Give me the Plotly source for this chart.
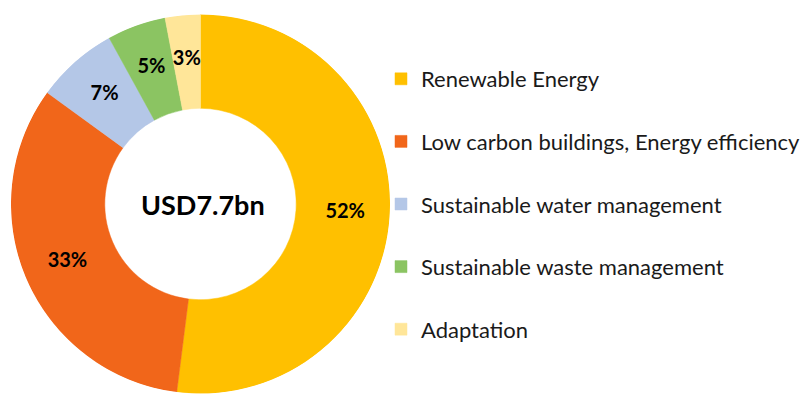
import plotly.graph_objects as go

categories = ["Renewable Energy", "Low carbon buildings, Energy efficiency",
              "Sustainable water management", "Sustainable waste management", "Adaptation"]
shares = [52, 33, 7, 5, 3]
colors = ["#FFC000", "#F1661A", "#B4C7E7", "#8BC462", "#FFE699"]
center_label = "USD7.7bn"

W, H = 806, 394
FONT = "Lato"
DOM = dict(x=[11 / W, 391 / W], y=[0, 380 / H])
HOLE = 0.505    # inner radius (fraction of radial axis)
LABEL_R = 0.765  # radius for the percentage labels

total = sum(shares)
widths = [s / total * 360 for s in shares]
mid_theta, acc = [], 0.0
for w in widths:
    mid_theta.append(acc + w / 2)
    acc += w
pct_text = [f"{s / total:.0%}" for s in shares]

fig = go.Figure()
for i, (c, col) in enumerate(zip(categories, colors)):
    fig.add_trace(go.Barpolar(
        r=[1 - HOLE], base=[HOLE], theta=[mid_theta[i]], width=[widths[i]],
        name=c, legendgroup=f"g{i}",
        marker=dict(color=col, line=dict(color=col, width=0.5)),
        hovertemplate=f"{c}: {pct_text[i]}<extra></extra>",
    ))
fig.add_trace(go.Scatterpolar(
    r=[LABEL_R] * len(shares), theta=mid_theta, mode="text", text=pct_text,
    textposition="middle center", showlegend=False, hoverinfo="skip",
    textfont=dict(family=FONT, size=20, color="black", weight="bold"),
))

fig.add_annotation(text=center_label, x=204 / W, y=1 - 204 / H, xref="paper", yref="paper",
                   xanchor="center", yanchor="middle", showarrow=False,
                   font=dict(family=FONT, size=27, color="black", weight="bold"))

fig.update_layout(
    width=W, height=H, margin=dict(l=0, r=0, t=0, b=0),
    paper_bgcolor="white",
    polar=dict(domain=DOM, bgcolor="rgba(0,0,0,0)",
               radialaxis=dict(range=[0, 1], visible=False),
               angularaxis=dict(rotation=90, direction="clockwise", visible=False)),
    legend=dict(x=382 / W, y=1 - 58 / H, xanchor="left", yanchor="top",
                font=dict(family=FONT, size=22, color="#1a1a1a"),
                tracegroupgap=31, bgcolor="rgba(0,0,0,0)"),
)
fig.write_html("out.html")
